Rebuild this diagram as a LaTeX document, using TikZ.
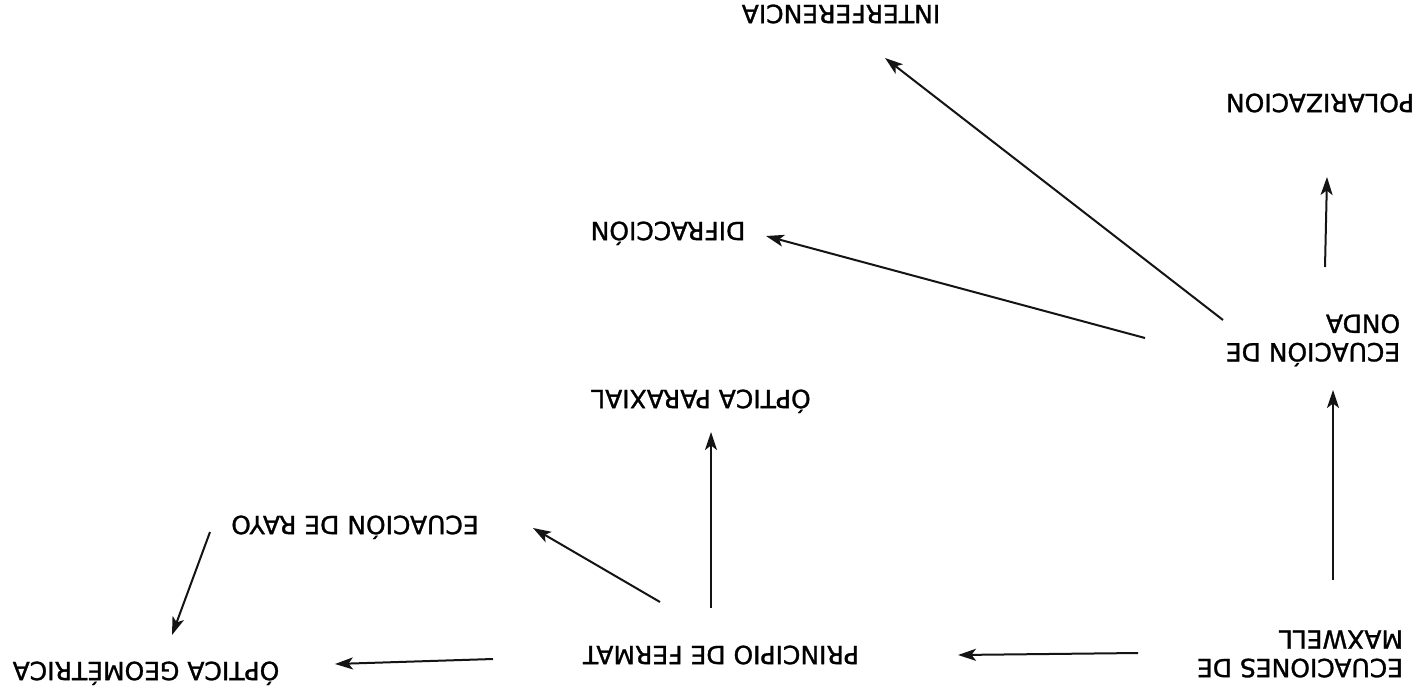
\documentclass[tikz,border=0pt]{standalone}
\usepackage{fontspec}
\setmainfont[FakeBold=1.2]{DejaVu Sans}
\usetikzlibrary{arrows.meta}
\tikzset{
  lbl/.style={rotate=180, inner sep=0pt, font=\fontsize{25pt}{28.5pt}\selectfont, text=black},
  lbll/.style={lbl, align=left},
  arr/.style={line width=2pt, draw=black!92, -{Stealth[length=18pt,width=12pt,inset=4.5pt]}}
}
\begin{document}
\begin{tikzpicture}[x=1pt,y=-1pt]
\useasboundingbox[fill=white] (0,0) rectangle (1421,694);
\node[lbll] (maxwell) at (1300,654) {ECUACIONES DE\\MAXWELL};
\node[lbl] (fermat) at (721,655) {PRINCIPIO DE FERMAT};
\node[lbl] (geom) at (146,671) {\smash{Ó}PTICA GEOM\smash{É}TRICA};
\node[lbl] (rayo) at (355,525) {ECUACI\smash{Ó}N DE RAYO};
\node[lbl] (parax) at (701,399) {\smash{Ó}PTICA PARAXIAL};
\node[lbll] (onda) at (1313,338) {ECUACI\smash{Ó}N DE\\ONDA};
\node[lbl] (difr) at (668,231) {DIFRACCI\smash{Ó}N};
\node[lbl] (interf) at (841,14) {INTERFERENCIA};
\node[lbl] (polar) at (1320,103) {POLARIZACION};
\draw[arr] ([shift={(-162,-1)}]maxwell.center) -- ([shift={(237,0)}]fermat.center);
\draw[arr] ([shift={(-228,4)}]fermat.center) -- ([shift={(189,-7)}]geom.center);
\draw[arr] ([shift={(-61,-53)}]fermat.center) -- ([shift={(178,3)}]rayo.center);
\draw[arr] ([shift={(-145,7)}]rayo.center) -- ([shift={(26,-36)}]geom.center);
\draw[arr] ([shift={(-10,-47)}]fermat.center) -- ([shift={(10,33)}]parax.center);
\draw[arr] ([shift={(33,-74)}]maxwell.center) -- ([shift={(20,52)}]onda.center);
\draw[arr] ([shift={(-168,0)}]onda.center) -- ([shift={(98,5)}]difr.center);
\draw[arr] ([shift={(-90,-18)}]onda.center) -- ([shift={(44,44)}]interf.center);
\draw[arr] ([shift={(12,-71)}]onda.center) -- ([shift={(7,74)}]polar.center);
\end{tikzpicture}
\end{document}
